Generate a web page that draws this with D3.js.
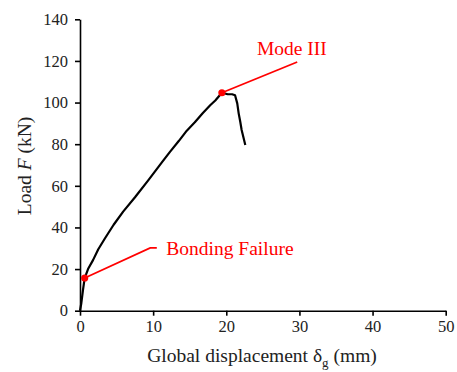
<!DOCTYPE html>
<html>
<head>
<meta charset="utf-8">
<script src="https://cdn.jsdelivr.net/npm/d3@7"></script>
<style>
  body { margin: 0; background: #fff; }
  svg text { font-family: 'Liberation Serif', 'Times New Roman', 'DejaVu Serif', serif; }
</style>
</head>
<body>
<script>
"use strict";

// load-displacement curve
const dispValues = [0, 0.18, 0.41, 0.64, 1.1, 1.78, 2.5, 3.42, 4.6, 5.9, 7.52, 9.3, 11.4, 12.3, 13.5, 14.6, 15.7, 16.8, 17.8, 18.5, 19.4, 20.2, 20.8, 21.2, 21.5, 21.7, 21.9, 22.1, 22.6];
const loadValues = [0, 3.6, 10, 15.7, 20, 24.3, 29.5, 34.8, 41.3, 47.6, 54.5, 62.5, 72.2, 76.3, 81.5, 86.5, 90.5, 95, 98.7, 101, 104.7, 104, 104, 103.5, 99.6, 94.7, 91, 86.8, 79.6];

const xTicks = [0, 10, 20, 30, 40, 50];
const yTicks = [0, 20, 40, 60, 80, 100, 120, 140];

// annotated points: [disp, load], callout elbow, label
const markLabels = ["Bonding Failure", "Mode III"];
const markPoints = [[0.64, 15.7], [19.4, 104.7]];
const markElbows = [[[9.6, 30.2], [10.5, 30.2]], [[29.7, 119.5]]];
const markTextAt = [[11.8, 27], [24.2, 122.8]];

const svgSize = { width: 457, height: 372 };
const serif = "'Liberation Serif', 'Times New Roman', serif";

window.addEventListener("load", init);

function init() {
    const svg = d3.select("body").append("svg")
        .attr("width", svgSize.width)
        .attr("height", svgSize.height);

    const x = d3.scaleLinear().domain([0, 50]).range([80, 445.7]);
    const y = d3.scaleLinear().domain([0, 140]).range([310.7, 19.3]);

    // axes
    const xAxis = svg.append("g")
        .attr("transform", `translate(0,${y(0)})`)
        .call(d3.axisBottom(x).tickValues(xTicks).tickSize(5).tickSizeOuter(0).tickPadding(5));
    const yAxis = svg.append("g")
        .attr("transform", `translate(${x(0)},0)`)
        .call(d3.axisLeft(y).tickValues(yTicks).tickSize(5).tickSizeOuter(0).tickPadding(7));

    [xAxis, yAxis].forEach(function(ax) {
        ax.attr("font-family", serif).attr("font-size", 16.5);
        ax.select(".domain").attr("stroke", "#000").attr("stroke-width", 1.6);
        ax.selectAll(".tick line").attr("stroke", "#000").attr("stroke-width", 1.6);
        ax.selectAll(".tick text").attr("fill", "#222");
    });

    // curve
    const pts = dispValues.map((d, i) => [d, loadValues[i]]);
    svg.append("path")
        .datum(pts)
        .attr("fill", "none")
        .attr("stroke", "#000")
        .attr("stroke-width", 2.2)
        .attr("stroke-linejoin", "round")
        .attr("d", d3.line().x(d => x(d[0])).y(d => y(d[1])));

    // red callouts
    markPoints.forEach(function(p, i) {
        const line = [p].concat(markElbows[i]);
        svg.append("path")
            .attr("fill", "none")
            .attr("stroke", "#ff0000")
            .attr("stroke-width", 1.8)
            .attr("d", d3.line().x(d => x(d[0])).y(d => y(d[1]))(line));
        svg.append("circle")
            .attr("cx", x(p[0]))
            .attr("cy", y(p[1]))
            .attr("r", 3.6)
            .attr("fill", "#ff0000");
        svg.append("text")
            .attr("x", x(markTextAt[i][0]))
            .attr("y", y(markTextAt[i][1]))
            .attr("fill", "#ff0000")
            .attr("font-family", serif)
            .attr("font-size", 19.5)
            .text(markLabels[i]);
    });

    // axis titles
    const xt = svg.append("text")
        .attr("x", 262)
        .attr("y", 362)
        .attr("text-anchor", "middle")
        .attr("fill", "#222")
        .attr("font-family", serif)
        .attr("font-size", 19.5);
    xt.append("tspan").text("Global displacement δ");
    xt.append("tspan").attr("dy", 5).attr("font-size", 13).text("g");
    xt.append("tspan").attr("dy", -5).text(" (mm)");

    const yt = svg.append("text")
        .attr("transform", "translate(31,166) rotate(-90)")
        .attr("text-anchor", "middle")
        .attr("fill", "#222")
        .attr("font-family", serif)
        .attr("font-size", 19.5);
    yt.append("tspan").text("Load ");
    yt.append("tspan").attr("font-style", "italic").text("F");
    yt.append("tspan").text(" (kN)");
}
</script>
</body>
</html>
